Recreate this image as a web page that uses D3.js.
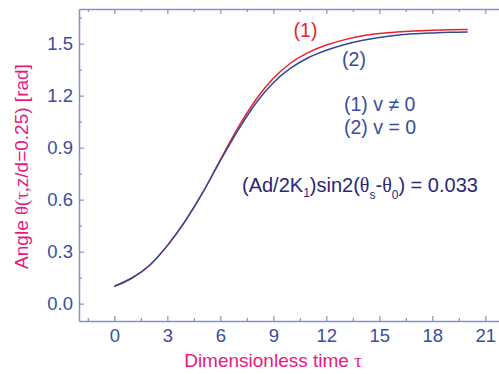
<!DOCTYPE html>
<html>
<head>
<meta charset="utf-8">
<script src="https://cdn.jsdelivr.net/npm/d3@7"></script>
<style>
  body { margin: 0; background: #fff; }
  svg { display: block; font-family: Arial, "Liberation Sans", sans-serif; }
</style>
</head>
<body>
<svg id="chart" width="499" height="374"></svg>
<script>
// Dimensionless time values
const tau = [0, 1, 2, 3, 4, 5, 6, 7, 8, 9, 10, 11, 12, 13, 14, 15, 16, 17, 18, 19, 20];
// Curve (1): v != 0
const thetaMoving = [0.10, 0.148, 0.222, 0.335, 0.475, 0.64, 0.83, 1.015, 1.175, 1.30, 1.39, 1.45, 1.492, 1.522, 1.544, 1.558, 1.567, 1.573, 1.577, 1.580, 1.582];
// Curve (2): v = 0
const thetaStatic = [0.10, 0.148, 0.222, 0.335, 0.475, 0.64, 0.825, 1.00, 1.155, 1.275, 1.36, 1.42, 1.462, 1.494, 1.518, 1.536, 1.549, 1.557, 1.562, 1.566, 1.568];

const xMajorTicks = [0, 3, 6, 9, 12, 15, 18, 21];
const xMinorTicks = [-1.5, 1.5, 4.5, 7.5, 10.5, 13.5, 16.5, 19.5];
const yMajorTicks = [0.0, 0.3, 0.6, 0.9, 1.2, 1.5];
const yMinorTicks = [0.15, 0.45, 0.75, 1.05, 1.35, 1.65];

const axisColor = "#8391c9";
const tickText = "#3a4d9f";
const magenta = "#e8197f";
const red = "#e8222c";
const blue = "#2f4a9c";

const svg = d3.select("#chart");
const plotLeft = 79, plotRight = 503, plotTop = 9, plotBottom = 321;

const x = d3.scaleLinear().domain([-2, 22]).range([plotLeft, plotRight]);
const y = d3.scaleLinear().domain([-0.1, 1.7]).range([plotBottom, plotTop]);

// Frame axes with inward ticks
function styleAxis(g) {
  g.selectAll(".domain").attr("stroke", axisColor).attr("stroke-width", 1.5);
  g.selectAll(".tick line").attr("stroke", axisColor).attr("stroke-width", 1.2);
  g.selectAll(".tick text").attr("fill", tickText).attr("font-size", 18.5)
    .attr("font-family", "Arial, 'Liberation Sans', sans-serif");
}

const gx = svg.append("g").attr("transform", `translate(0,${plotBottom})`)
  .call(d3.axisBottom(x).tickValues(xMajorTicks).tickSizeInner(-5).tickSizeOuter(0).tickFormat(d3.format("d")));
styleAxis(gx);
gx.selectAll(".tick text").attr("dy", "0.71em").attr("y", 8);

const gxm = svg.append("g").attr("transform", `translate(0,${plotBottom})`)
  .call(d3.axisBottom(x).tickValues(xMinorTicks).tickSizeInner(-3).tickSizeOuter(0).tickFormat(""));
styleAxis(gxm);
gxm.select(".domain").remove();

const gxt = svg.append("g").attr("transform", `translate(0,${plotTop})`)
  .call(d3.axisTop(x).tickValues(xMajorTicks).tickSizeInner(-5).tickSizeOuter(0).tickFormat(""));
styleAxis(gxt);
const gxtm = svg.append("g").attr("transform", `translate(0,${plotTop})`)
  .call(d3.axisTop(x).tickValues(xMinorTicks).tickSizeInner(-3).tickSizeOuter(0).tickFormat(""));
styleAxis(gxtm);
gxtm.select(".domain").remove();

const gy = svg.append("g").attr("transform", `translate(${plotLeft},0)`)
  .call(d3.axisLeft(y).tickValues(yMajorTicks).tickSizeInner(-5).tickSizeOuter(0).tickFormat(d3.format(".1f")));
styleAxis(gy);
gy.selectAll(".tick text").attr("x", -6);

const gym = svg.append("g").attr("transform", `translate(${plotLeft},0)`)
  .call(d3.axisLeft(y).tickValues(yMinorTicks).tickSizeInner(-3).tickSizeOuter(0).tickFormat(""));
styleAxis(gym);
gym.select(".domain").remove();

// Curves
const line = d3.line().x(d => x(d[0])).y(d => y(d[1])).curve(d3.curveMonotoneX);
svg.append("path").datum(tau.map((t, i) => [t, thetaMoving[i]]))
  .attr("d", line).attr("fill", "none").attr("stroke", red).attr("stroke-width", 1.5);
svg.append("path").datum(tau.map((t, i) => [t, thetaStatic[i]]))
  .attr("d", line).attr("fill", "none").attr("stroke", blue).attr("stroke-width", 1.5);

// Curve labels
svg.append("text").attr("x", 305.5).attr("y", 37).attr("text-anchor", "middle")
  .attr("fill", red).attr("font-size", 19.5).text("(1)");
svg.append("text").attr("x", 354).attr("y", 66).attr("text-anchor", "middle")
  .attr("fill", tickText).attr("font-size", 19.5).text("(2)");

svg.append("text").attr("x", 344).attr("y", 110.5)
  .attr("fill", tickText).attr("font-size", 19.5).text("(1) v \u2260 0");
svg.append("text").attr("x", 344).attr("y", 134)
  .attr("fill", tickText).attr("font-size", 19.5).text("(2) v = 0");

// Parameter annotation
const ann = svg.append("text").attr("x", 242).attr("y", 192)
  .attr("fill", "#28287a").attr("font-size", 20);
ann.append("tspan").text("(Ad/2K");
ann.append("tspan").attr("font-size", 12).attr("dy", 5).text("1");
ann.append("tspan").attr("dy", -5).text(")sin2(");
ann.append("tspan").attr("font-family", "'Liberation Serif', serif").text("\u03b8");
ann.append("tspan").attr("font-size", 12).attr("dy", 7).text("s");
ann.append("tspan").attr("dy", -7).text("-");
ann.append("tspan").attr("font-family", "'Liberation Serif', serif").text("\u03b8");
ann.append("tspan").attr("font-size", 12).attr("dy", 7).text("0");
ann.append("tspan").attr("dy", -7).text(") = 0.033");

// Axis titles
const yt = svg.append("text")
  .attr("transform", "translate(28,166.5) rotate(-90)")
  .attr("text-anchor", "middle").attr("fill", magenta).attr("font-size", 19);
yt.append("tspan").text("Angle ");
yt.append("tspan").attr("font-family", "'Liberation Serif', serif").text("\u03b8(\u03c4,");
yt.append("tspan").text("z/d=0.25) [rad]");

const xt = svg.append("text").attr("x", 273).attr("y", 366.5)
  .attr("text-anchor", "middle").attr("fill", magenta).attr("font-size", 19);
xt.append("tspan").text("Dimensionless time ");
xt.append("tspan").attr("font-family", "'Liberation Serif', serif").text("\u03c4");
</script>
</body>
</html>
